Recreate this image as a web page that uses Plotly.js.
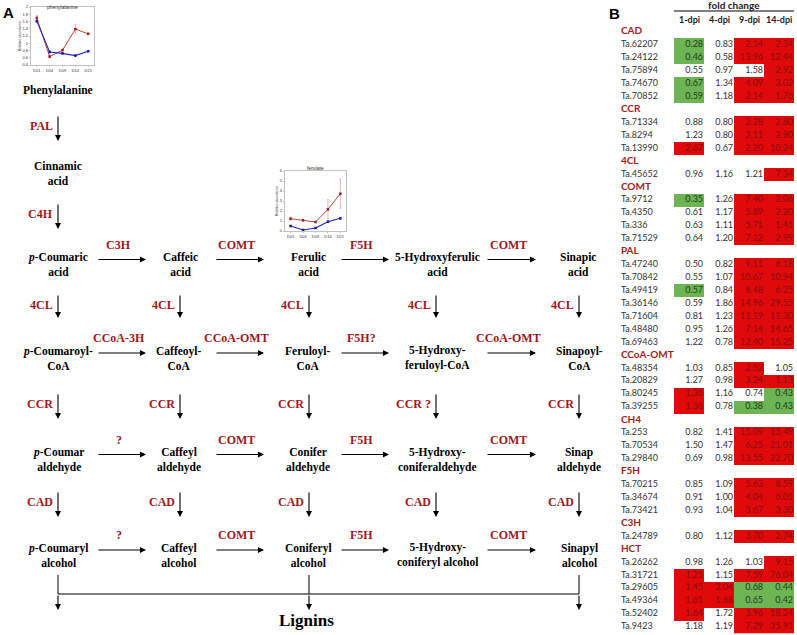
<!DOCTYPE html>
<html><head><meta charset="utf-8">
<script src="https://cdn.plot.ly/plotly-3.0.1.min.js"></script>
<style>html,body{margin:0;padding:0;background:#fff}</style>
</head><body><div id="chart" style="width:797px;height:635px"></div>
<script>
// ---------- table data (panel B) ----------
const groups = ['CAD','CCR','4CL','COMT','PAL','CCoA-OMT','CH4','F5H','C3H','HCT'];
const groupSize = [5,3,1,4,7,4,3,3,1,6];
const genes = ['Ta.62207','Ta.24122','Ta.75894','Ta.74670','Ta.70852',
  'Ta.71334','Ta.8294','Ta.13990',
  'Ta.45652',
  'Ta.9712','Ta.4350','Ta.336','Ta.71529',
  'Ta.47240','Ta.70842','Ta.49419','Ta.36146','Ta.71604','Ta.48480','Ta.69463',
  'Ta.48354','Ta.20829','Ta.80245','Ta.39255',
  'Ta.253','Ta.70534','Ta.29840',
  'Ta.70215','Ta.34674','Ta.73421',
  'Ta.24789',
  'Ta.26262','Ta.31721','Ta.29605','Ta.49364','Ta.52402','Ta.9423'];
const dpi1  = [0.28,0.46,0.55,0.67,0.59, 0.88,1.23,2.67, 0.96, 0.35,0.61,0.63,0.64,
  0.50,0.55,0.57,0.59,0.81,0.95,1.22, 1.03,1.27,1.36,1.36, 0.82,1.50,0.69,
  0.85,0.91,0.93, 0.80, 0.98,1.25,1.45,1.61,1.64,1.18];
const dpi4  = [0.83,0.58,0.97,1.34,1.18, 0.80,0.80,0.67, 1.16, 1.26,1.17,1.11,1.20,
  0.82,1.07,0.84,1.86,1.23,1.26,0.78, 0.85,0.98,1.16,0.78, 1.41,1.47,0.98,
  1.09,1.00,1.04, 1.12, 1.26,1.15,2.04,1.68,1.72,1.19];
const dpi9  = [2.14,13.96,1.58,4.09,2.14, 2.28,2.11,2.20, 1.21, 7.40,5.89,5.71,7.12,
  9.11,10.67,8.48,14.96,11.19,7.14,12.40, 2.52,3.24,0.74,0.38, 15.09,6.25,13.55,
  5.63,4.04,3.67, 3.70, 1.03,7.59,0.68,0.65,3.96,7.29];
const dpi14 = [2.34,12.44,2.92,3.02,1.76, 2.80,2.90,10.24, 7.34, 2.06,2.20,1.41,2.99,
  6.18,10.94,6.25,29.55,11.30,14.65,15.25, 1.05,1.13,0.43,0.43, 13.49,21.01,22.70,
  8.59,6.01,3.30, 2.74, 9.15,76.04,0.44,0.42,18.24,35.91];
// significance: 1 = up (red), -1 = down (green), 0 = not significant
const sig1  = [-1,-1,0,-1,-1, 0,0,1, 0, -1,0,0,0, 0,0,-1,0,0,0,0, 0,0,1,1, 0,0,0, 0,0,0, 0, 0,1,1,1,1,0];
const sig4  = [0,0,0,0,0, 0,0,0, 0, 0,0,0,0, 0,0,0,0,0,0,0, 0,0,0,0, 0,0,0, 0,0,0, 0, 0,0,1,1,0,0];
const sig9  = [1,1,0,1,1, 1,1,1, 0, 1,1,1,1, 1,1,1,1,1,1,1, 1,1,0,-1, 1,1,1, 1,1,1, 1, 0,1,-1,-1,1,1];
const sig14 = [1,1,1,1,1, 1,1,1, 1, 1,1,1,1, 1,1,1,1,1,1,1, 0,1,-1,-1, 1,1,1, 1,1,1, 1, 1,1,-1,-1,1,1];
const colLabels = ['1-dpi','4-dpi','9-dpi','14-dpi'];

// ---------- metabolite insets (panel A) ----------
const days = ['D01','D04','D09','D14','D21'];
const pheRed = [1.70,0.63,0.81,1.39,1.26];
const pheRedErr = [0.06,0.03,0.03,0.12,0.02];
const pheBlue = [1.61,0.76,0.72,0.66,0.78];
const pheBlueErr = [0.03,0.02,0.02,0.02,0.02];
const ferRed = [1.23,1.07,0.90,2.17,3.73];
const ferRedErr = [0.15,0.08,0.08,0.95,1.45];
const ferBlue = [0.50,0.10,0.30,0.93,1.27];
const ferBlueErr = [0.05,0.03,0.04,0.08,0.1];

// ---------- pathway content ----------
const compounds = [
  ['Phenylalanine',58,90],['Cinnamic<br>acid',58,173],
  ['<i>p</i>-Coumaric<br>acid',58,264],['Caffeic<br>acid',180,264],['Ferulic<br>acid',308,264],['5-Hydroxyferulic<br>acid',437,264],['Sinapic<br>acid',578,264],
  ['<i>p</i>-Coumaroyl-<br>CoA',58,358],['Caffeoyl-<br>CoA',179,358],['Feruloyl-<br>CoA',308,358],['5-Hydroxy-<br>feruloyl-CoA',437,358],['Sinapoyl-<br>CoA',579,358],
  ['<i>p</i>-Coumar<br>aldehyde',58,460],['Caffeyl<br>aldehyde',179,460],['Conifer<br>aldehyde',308,460],['5-Hydroxy-<br>coniferaldehyde',437,460],['Sinap<br>aldehyde',579,460],
  ['<i>p</i>-Coumaryl<br>alcohol',58,555],['Caffeyl<br>alcohol',179,555],['Coniferyl<br>alcohol',308,555],['5-Hydroxy-<br>coniferyl alcohol',437,555],['Sinapyl<br>alcohol',579,555]
];
const hSeg = [[97,146],[215,264],[340,389],[486,536]];
const vArrows = [ // [x, y0, y1, label]
  [58,115,141,'PAL'],[58,203,229,'C4H'],
  [58,294,318,'4CL'],[180,294,318,'4CL'],[309,294,318,'4CL'],[436,294,318,'4CL'],[579,294,318,'4CL'],
  [58,393,419,'CCR'],[180,393,419,'CCR'],[309,393,419,'CCR'],[436,393,419,'CCR ?'],[579,393,419,'CCR'],
  [58,491,517,'CAD'],[180,491,517,'CAD'],[309,491,517,'CAD'],[436,491,517,'CAD'],[579,491,517,'CAD']
];
const hRows = [ // [y, labels]
  [259.5,['C3H','COMT','F5H','COMT']],
  [353,['CCoA-3H','CCoA-OMT','F5H?','CCoA-OMT']],
  [454.5,['?','COMT','F5H','COMT']],
  [550,['?','COMT','F5H','COMT']]
];

// ---------- build table rows ----------
const rowY = [], rowText = [], headY = [], headText = [];
const zRows = [];
const valX = [], valY = [], valT = [], valC = [];
const cols = [dpi1,dpi4,dpi9,dpi14], sigs = [sig1,sig4,sig9,sig14];
let r = 0, g = 0;
groups.forEach((name, gi) => {
  headY.push(r); headText.push('<b>'+name+'</b>'); zRows.push([null,null,null,null]); r++;
  for (let k = 0; k < groupSize[gi]; k++, g++, r++) {
    rowY.push(r); rowText.push(genes[g]);
    zRows.push(sigs.map(s => s[g]));
    cols.forEach((c, ci) => {
      valX.push(ci + 0.47); valY.push(r); valT.push(c[g].toFixed(2));
      const s = sigs[ci][g];
      valC.push(s === 1 ? '#8a0a0a' : (s === -1 ? '#1f3d18' : '#333333'));
    });
  }
});

const RED = '#e00a0a', GREEN = '#6cb454';
const tfont = 'Lato, "Open Sans", sans-serif';
const serif = '"Liberation Serif", "Times New Roman", serif';
const ENZ = '#a3171c';

const traces = [
  {type:'heatmap', x:[0,1,2,3], y:zRows.map((_,i)=>i), z:zRows, xaxis:'x2', yaxis:'y2',
   zmin:-1, zmax:1, colorscale:[[0,GREEN],[0.5,'#ffffff'],[1,RED]], showscale:false, hoverinfo:'skip'},
  {type:'scatter', mode:'text', x:valX, y:valY, text:valT, textposition:'middle left',
   textfont:{family:tfont, size:9, color:valC}, xaxis:'x2', yaxis:'y2', hoverinfo:'skip', showlegend:false},
  {type:'scatter', mode:'text', x:rowY.map(()=>-2.27), y:rowY, text:rowText, textposition:'middle right',
   textfont:{family:tfont, size:9, color:'#333'}, xaxis:'x2', yaxis:'y2', hoverinfo:'skip', showlegend:false},
  {type:'scatter', mode:'text', x:headY.map(()=>-2.27), y:headY, text:headText, textposition:'middle right',
   textfont:{family:tfont, size:10, color:'#a31d21'}, xaxis:'x2', yaxis:'y2', hoverinfo:'skip', showlegend:false},
  // insets
  {type:'scatter', mode:'lines+markers', x:days, y:pheRed, error_y:{type:'data', array:pheRedErr, color:'#e08080', thickness:0.6, width:1},
   line:{color:'#b03030', width:0.9}, marker:{size:2.5, color:'#a02020', symbol:'square'}, xaxis:'x3', yaxis:'y3', showlegend:false},
  {type:'scatter', mode:'lines+markers', x:days, y:pheBlue, error_y:{type:'data', array:pheBlueErr, color:'#8080e0', thickness:0.6, width:1},
   line:{color:'#2222cc', width:1.1}, marker:{size:2.5, color:'#1a1aa0', symbol:'square'}, xaxis:'x3', yaxis:'y3', showlegend:false},
  {type:'scatter', mode:'lines+markers', x:days, y:ferRed, error_y:{type:'data', array:ferRedErr, color:'#e08080', thickness:0.6, width:1},
   line:{color:'#b03030', width:0.9}, marker:{size:2.5, color:'#a02020', symbol:'square'}, xaxis:'x4', yaxis:'y4', showlegend:false},
  {type:'scatter', mode:'lines+markers', x:days, y:ferBlue, error_y:{type:'data', array:ferBlueErr, color:'#8080e0', thickness:0.6, width:1},
   line:{color:'#2222cc', width:1.1}, marker:{size:2.5, color:'#1a1aa0', symbol:'square'}, xaxis:'x4', yaxis:'y4', showlegend:false}
];

const annotations = [];
const shapes = [];
const px = (o) => Object.assign({xref:'x', yref:'y', showarrow:false}, o);

annotations.push(px({x:1, y:12, text:'<b>A</b>', xanchor:'left', font:{family:'Liberation Sans, Arial, sans-serif', size:15, color:'#000'}}));
annotations.push(px({x:607, y:13, text:'<b>B</b>', xanchor:'left', font:{family:'Liberation Sans, Arial, sans-serif', size:15, color:'#000'}}));

compounds.forEach(([t,x,y]) => annotations.push(px({x:x, y:y, text:'<b>'+t+'</b>', font:{family:serif, size:11.5, color:'#000'}})));
annotations.push(px({x:306, y:620, text:'<b>Lignins</b>', font:{family:serif, size:17, color:'#000'}}));

const arrow = (x0,y0,x1,y1) => ({x:x1, y:y1, ax:x0, ay:y0, xref:'x', yref:'y', axref:'x', ayref:'y', text:'',
  showarrow:true, arrowhead:2, arrowsize:1.1, arrowwidth:1.1, arrowcolor:'#000', standoff:0, startstandoff:0});

vArrows.forEach(([x,y0,y1,lab]) => {
  annotations.push(arrow(x,y0,x,y1));
  annotations.push(px({x:x-3, y:y0+11, text:'<b>'+lab+'</b>', xanchor:'right', font:{family:serif, size:12, color:ENZ}}));
});
hRows.forEach(([y,labs]) => {
  hSeg.forEach(([x0,x1],i) => {
    annotations.push(arrow(x0,y,x1,y));
    annotations.push(px({x:(x0+x1)/2 - 3, y:y-15, text:'<b>'+labs[i]+'</b>', font:{family:serif, size:12, color:ENZ}}));
  });
});

// bottom connectors to lignins
const lineY = 594;
[58,309,579].forEach(x => {
  shapes.push({type:'line', xref:'x', yref:'y', x0:x, x1:x, y0:575, y1:lineY, line:{color:'#000', width:1}});
  annotations.push(arrow(x,lineY,x,610));
});
shapes.push({type:'line', xref:'x', yref:'y', x0:58, x1:579, y0:lineY, y1:lineY, line:{color:'#000', width:1}});

// table headers
annotations.push({xref:'x2', yref:'y', x:1.5, y:5, text:'<b>fold change</b>', showarrow:false, font:{family:tfont, size:10, color:'#222'}});
shapes.push({type:'line', xref:'x2', yref:'y', x0:-0.5, x1:3.5, y0:11, y1:11, line:{color:'#000', width:1}});
colLabels.forEach((c,i) => annotations.push({xref:'x2', yref:'y', x:i, y:19, text:'<b>'+c+'</b>', showarrow:false, font:{family:tfont, size:9, color:'#222'}}));

// inset titles
annotations.push({xref:'x3', yref:'paper', x:2, y:1-2/635, yanchor:'top', text:'phenylalanine', showarrow:false, font:{family:'Liberation Sans, sans-serif', size:5, color:'#333'}});
annotations.push({xref:'x4', yref:'paper', x:2, y:1-163/635, yanchor:'top', text:'ferulate', showarrow:false, font:{family:'Liberation Sans, sans-serif', size:5, color:'#333'}});

const insetAxis = (dom, extra) => Object.assign({domain:dom, showline:true, mirror:true, linecolor:'#999', linewidth:0.6,
  ticks:'outside', ticklen:1.5, tickwidth:0.5, tickcolor:'#888', showgrid:false, zeroline:false,
  tickfont:{size:4, family:'Liberation Sans, sans-serif', color:'#333'}, fixedrange:true}, extra);

const layout = {
  width:797, height:635, margin:{l:0,r:0,t:0,b:0}, paper_bgcolor:'#fff', plot_bgcolor:'rgba(0,0,0,0)',
  showlegend:false, font:{family:tfont},
  xaxis:{domain:[0,1], range:[0,797], visible:false, fixedrange:true},
  yaxis:{domain:[0,1], range:[635,0], visible:false, fixedrange:true},
  xaxis2:{domain:[620/797, 794/797], range:[-2.3,3.5], visible:false, anchor:'y2', fixedrange:true},
  yaxis2:{domain:[1-633.5/635, 1-25.5/635], range:[46.5,-0.5], visible:false, anchor:'x2', fixedrange:true},
  xaxis3:insetAxis([31/797, 94/797], {anchor:'y3', type:'category', range:[-0.45,4.45]}),
  yaxis3:insetAxis([1-65/635, 1-7/635], {anchor:'x3', range:[0.4,2], dtick:0.2,
      title:{text:'Relative abundance', font:{size:3.5}, standoff:1}}),
  xaxis4:insetAxis([285/797, 346/797], {anchor:'y4', type:'category', range:[-0.45,4.45]}),
  yaxis4:insetAxis([1-231/635, 1-171/635], {anchor:'x4', range:[0,6], dtick:1,
      title:{text:'Relative abundance', font:{size:3.5}, standoff:1}}),
  annotations: annotations,
  shapes: shapes
};

Plotly.newPlot('chart', traces, layout, {displayModeBar:false, staticPlot:true});
</script></body></html>
